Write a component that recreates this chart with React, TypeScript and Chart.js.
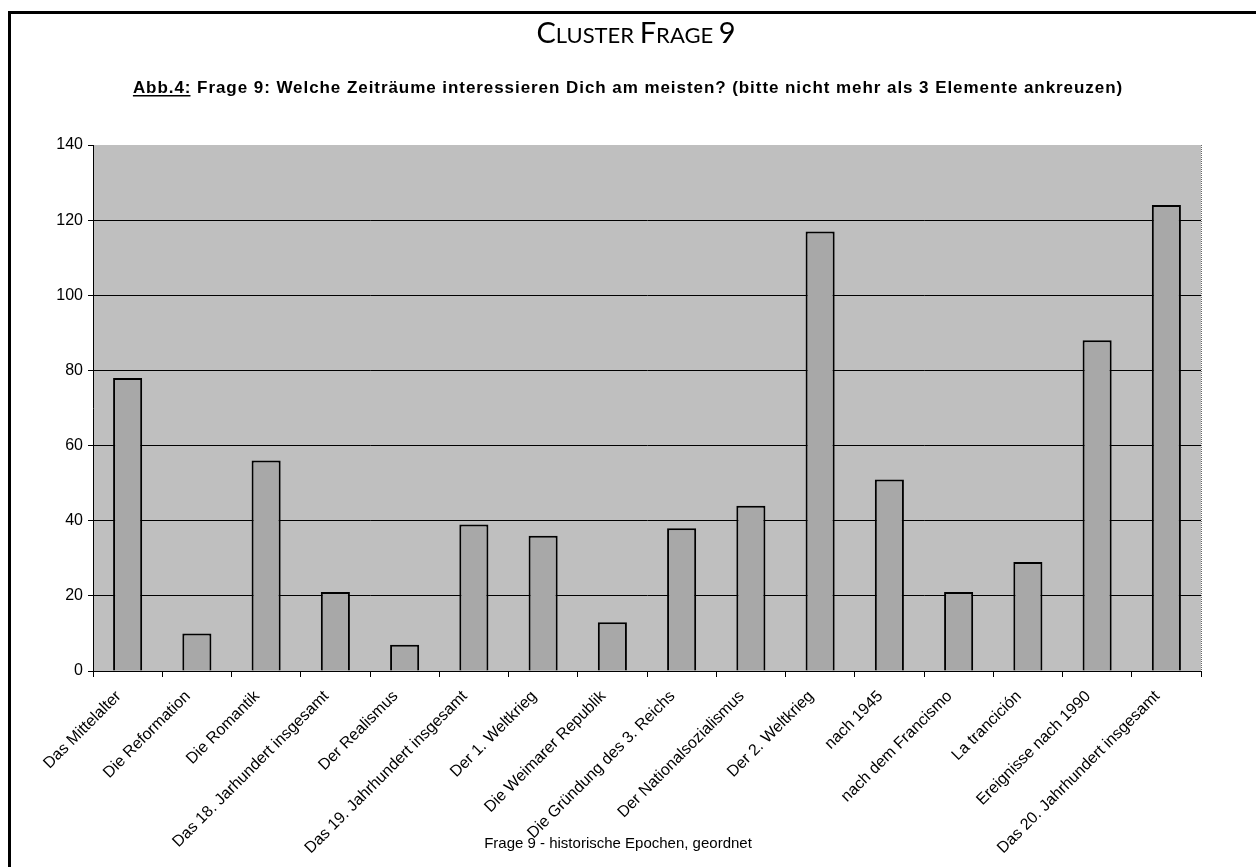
import React, { useEffect, useRef } from "react";
import { Chart, registerables } from "chart.js";

Chart.register(...registerables);

const categories = [
  "Das Mittelalter",
  "Die Reformation",
  "Die Romantik",
  "Das 18. Jarhundert insgesamt",
  "Der Realismus",
  "Das 19. Jahrhundert insgesamt",
  "Der 1. Weltkrieg",
  "Die Weimarer Republik",
  "Die Gründung des 3. Reichs",
  "Der Nationalsozialismus",
  "Der 2. Weltkrieg",
  "nach 1945",
  "nach dem Francismo",
  "La trancición",
  "Ereignisse nach 1990",
  "Das 20. Jahrhundert insgesamt",
];

const counts = [78, 10, 56, 21, 7, 39, 36, 13, 38, 44, 117, 51, 21, 29, 88, 124];

const yTicks = [0, 20, 40, 60, 80, 100, 120, 140];

const mainTitle = "Cluster Frage 9";
const subtitleLead = "Abb.4:";
const subtitleRest = " Frage 9: Welche Zeiträume interessieren Dich am meisten? (bitte nicht mehr als 3 Elemente ankreuzen)";
const axisTitle = "Frage 9 - historische Epochen, geordnet";

const decorPlugin = {
  id: "decor",
  beforeDraw(chart: any) {
    const { ctx, chartArea } = chart;
    ctx.save();
    ctx.fillStyle = "#ffffff";
    ctx.fillRect(0, 0, chart.width, chart.height);
    ctx.fillStyle = "#bfbfbf";
    ctx.fillRect(chartArea.left, chartArea.top, chartArea.right - chartArea.left, chartArea.bottom - chartArea.top);
    ctx.restore();
  },
  afterDraw(chart: any) {
    const { ctx, chartArea } = chart;
    ctx.save();
    // right border of plot
    ctx.strokeStyle = "#666666";
    ctx.lineWidth = 1;
    ctx.setLineDash([1, 1]);
    ctx.beginPath();
    ctx.moveTo(chartArea.right + 0.5, chartArea.top);
    ctx.lineTo(chartArea.right + 0.5, chartArea.bottom);
    ctx.stroke();
    ctx.setLineDash([]);

    // page frame
    ctx.fillStyle = "#000000";
    ctx.fillRect(8, 11, 3, chart.height - 11);
    ctx.fillRect(8, 11, chart.width - 8, 3);

    // main title in small caps
    const big = "29px Lato, 'DejaVu Sans', sans-serif";
    const small = "22px Lato, 'DejaVu Sans', sans-serif";
    const parts: { t: string; f: string }[] = [];
    for (const word of mainTitle.split(" ")) {
      if (parts.length) parts.push({ t: " ", f: small });
      parts.push({ t: word[0].toUpperCase(), f: big });
      if (word.length > 1) parts.push({ t: word.slice(1).toUpperCase(), f: small });
    }
    let total = 0;
    for (const p of parts) {
      ctx.font = p.f;
      total += ctx.measureText(p.t).width;
    }
    let x = 636 - total / 2;
    ctx.fillStyle = "#000";
    ctx.textBaseline = "alphabetic";
    ctx.textAlign = "left";
    for (const p of parts) {
      ctx.font = p.f;
      ctx.fillText(p.t, x, 43);
      x += ctx.measureText(p.t).width;
    }

    // subtitle
    ctx.font = "bold 17px 'Liberation Sans', Arial, sans-serif";
    const full = subtitleLead + subtitleRest;
    const baseW = ctx.measureText(full).width;
    const targetW = 990;
    const sp = Math.max(0, (targetW - baseW) / full.length);
    (ctx as any).letterSpacing = sp.toFixed(2) + "px";
    const w1 = ctx.measureText(subtitleLead).width;
    const w2 = ctx.measureText(subtitleRest).width;
    const sx = 628 - (w1 + w2) / 2;
    ctx.fillText(subtitleLead, sx, 93);
    ctx.fillRect(sx, 95, w1 - sp, 1.5);
    ctx.fillText(subtitleRest, sx + w1, 93);
    (ctx as any).letterSpacing = "0px";

    // bottom axis title
    ctx.font = "15px 'Liberation Sans', Arial, sans-serif";
    ctx.textAlign = "center";
    ctx.fillText(axisTitle, 618, 848);
    ctx.restore();
  },
};

export default function App() {
  const ref = useRef<HTMLCanvasElement | null>(null);
  useEffect(() => {
    document.body.style.margin = "0";
    const chart = new Chart(ref.current as HTMLCanvasElement, {
      type: "bar",
      data: {
        labels: categories,
        datasets: [
          {
            data: counts,
            backgroundColor: "#a8a8a8",
            borderColor: "#000000",
            borderWidth: 2,
            borderSkipped: "bottom",
            barPercentage: 0.42,
            categoryPercentage: 1,
          },
        ],
      },
      options: {
        responsive: false,
        animation: false,
        layout: { padding: { top: 145, right: 55, left: 0, bottom: 0 } },
        plugins: { legend: { display: false }, tooltip: { enabled: false }, title: { display: false } },
        scales: {
          x: {
            offset: true,
            grid: {
              drawOnChartArea: false,
              drawTicks: true,
              tickLength: 6,
              offset: true,
              color: "#000",
            },
            border: { display: true, color: "#000", width: 1 },
            ticks: {
              maxRotation: 45,
              minRotation: 45,
              autoSkip: false,
              color: "#000",
              padding: 10,
              labelOffset: -9,
              font: { family: "'Liberation Sans', Arial, sans-serif", size: 16 },
            },
            afterFit(scale: any) {
              scale.height = 196;
              scale.paddingLeft = 0;
              scale.paddingRight = 0;
            },
          },
          y: {
            min: 0,
            max: 140,
            afterBuildTicks(scale: any) {
              scale.ticks = yTicks.map((v) => ({ value: v }));
            },
            grid: {
              color: (c: any) => (c.tick && c.tick.value === 140 ? "rgba(0,0,0,0)" : "#000"),
              tickColor: "#000",
              lineWidth: 1,
              drawTicks: true,
              tickLength: 5,
            },
            border: { display: true, color: "#000", width: 1 },
            ticks: {
              color: "#000",
              padding: 5,
              font: { family: "'Liberation Sans', Arial, sans-serif", size: 16 },
            },
            afterFit(scale: any) {
              scale.width = 93;
              scale.paddingTop = 0;
              scale.paddingBottom = 0;
            },
          },
        },
      },
      plugins: [decorPlugin],
    });
    return () => chart.destroy();
  }, []);
  return (
    <div style={{ position: "absolute", left: 0, top: 0, width: 1256, height: 867 }}>
      <canvas ref={ref} width={1256} height={867} style={{ width: 1256, height: 867 }} />
    </div>
  );
}
